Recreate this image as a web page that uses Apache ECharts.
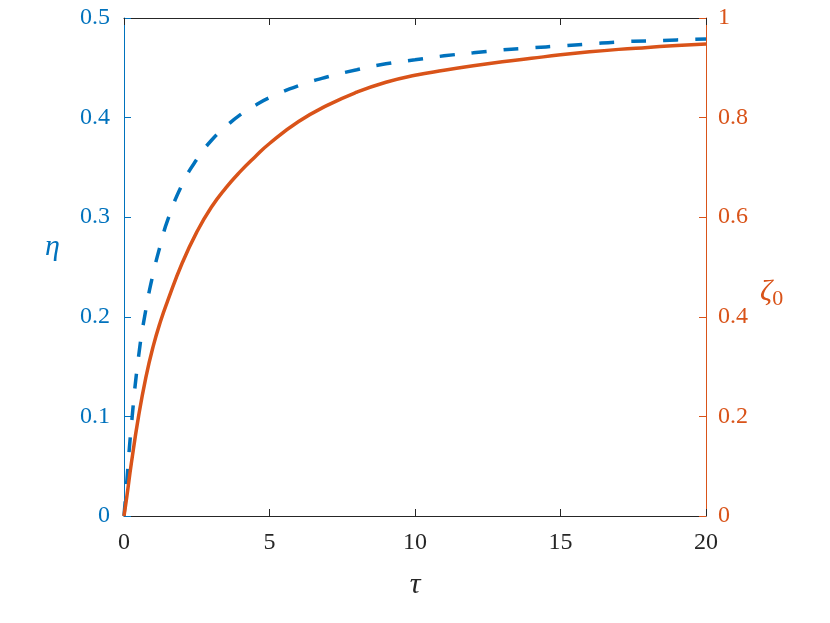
<!DOCTYPE html>
<html><head><meta charset="utf-8">
<script src="https://cdn.jsdelivr.net/npm/echarts@6/dist/echarts.min.js"></script>
<style>html,body{margin:0;padding:0;background:#fff}#c{width:830px;height:623px}</style>
</head><body><div id="c"></div>
<script>
const tau  = [0, 0.1, 0.25, 0.5, 0.75, 1, 1.25, 1.5, 2, 2.5, 3, 3.5, 4, 4.5, 5, 6, 7, 8, 9, 10, 11, 12, 13, 14, 15, 16, 17, 18, 19, 20];
const eta  = [0, 0.036, 0.09, 0.16, 0.207, 0.243, 0.272, 0.297, 0.333, 0.358, 0.377, 0.391, 0.403, 0.412, 0.420, 0.432, 0.441, 0.448, 0.454, 0.458, 0.462, 0.465, 0.468, 0.470, 0.472, 0.474, 0.476, 0.477, 0.478, 0.479];
const zeta = [0, 0.040, 0.105, 0.200, 0.278, 0.340, 0.390, 0.432, 0.508, 0.570, 0.620, 0.659, 0.692, 0.721, 0.748, 0.792, 0.825, 0.851, 0.871, 0.885, 0.895, 0.904, 0.912, 0.919, 0.926, 0.932, 0.937, 0.941, 0.945, 0.948];

const BLUE = '#0072BD', ORANGE = '#D95319', DARK = '#262626';
const FONT = 'Liberation Serif';
const chart = echarts.init(document.getElementById('c'));
chart.setOption({
  animation: false,
  backgroundColor: '#fff',
  grid: {left: 124, right: 124, top: 18, bottom: 107, containLabel: false},
  xAxis: [{
    type: 'value', min: 0, max: 20, interval: 5, position: 'bottom',
    name: 'τ', nameLocation: 'middle', nameGap: 54,
    nameTextStyle: {fontFamily: FONT, fontStyle: 'italic', fontSize: 30, color: DARK},
    axisLine: {onZero: false, lineStyle: {color: DARK, width: 1}},
    axisTick: {inside: true, length: 7, lineStyle: {color: DARK}},
    axisLabel: {fontFamily: FONT, fontSize: 24, color: DARK, margin: 15},
    splitLine: {show: false}
  }, {
    type: 'value', min: 0, max: 20, interval: 5, position: 'top',
    axisLine: {show: true, onZero: false, lineStyle: {color: DARK, width: 1}},
    axisTick: {inside: true, length: 7, lineStyle: {color: DARK}},
    axisLabel: {show: false}, splitLine: {show: false}
  }],
  yAxis: [{
    type: 'value', min: 0, max: 0.5, interval: 0.1, position: 'left',
    name: 'η', nameLocation: 'middle', nameGap: 64, nameRotate: 0,
    nameTextStyle: {fontFamily: FONT, fontStyle: 'italic', fontSize: 30, color: BLUE,
      verticalAlign: 'bottom', lineHeight: 40},
    axisLine: {show: true, onZero: false, lineStyle: {color: BLUE, width: 1}},
    axisTick: {show: true, inside: true, length: 7, lineStyle: {color: BLUE}},
    axisLabel: {fontFamily: FONT, fontSize: 24, color: BLUE, margin: 14},
    splitLine: {show: false}
  }, {
    type: 'value', min: 0, max: 1, interval: 0.2, position: 'right',
    name: '{a|ζ}{b|0}', nameLocation: 'middle', nameGap: 54, nameRotate: 0,
    nameTextStyle: {verticalAlign: 'top', rich: {
      a: {fontFamily: FONT, fontStyle: 'italic', fontSize: 30, color: ORANGE, lineHeight: 50},
      b: {fontFamily: FONT, fontSize: 22, color: ORANGE, lineHeight: 50, padding: [14, 0, 0, 0]}
    }},
    axisLine: {show: true, onZero: false, lineStyle: {color: ORANGE, width: 1}},
    axisTick: {show: true, inside: true, length: 7, lineStyle: {color: ORANGE}},
    axisLabel: {fontFamily: FONT, fontSize: 24, color: ORANGE, margin: 12,
      formatter: v => (v === 0 || v === 1) ? String(v) : v.toFixed(1)},
    splitLine: {show: false}
  }],
  series: [{
    type: 'line', xAxisIndex: 0, yAxisIndex: 0, smooth: 0.5, showSymbol: false,
    data: tau.map((t, i) => [t, eta[i]]),
    lineStyle: {color: BLUE, width: 3.5, type: [15, 17]}, z: 3
  }, {
    type: 'line', xAxisIndex: 0, yAxisIndex: 1, smooth: 0.5, showSymbol: false,
    data: tau.map((t, i) => [t, zeta[i]]),
    lineStyle: {color: ORANGE, width: 3.5}, z: 4
  }]
});
</script></body></html>
